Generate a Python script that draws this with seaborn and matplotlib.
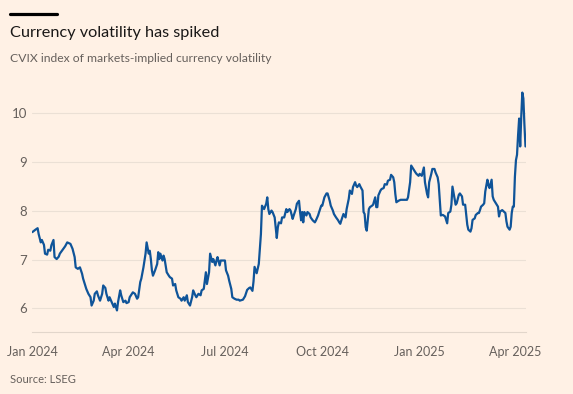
import matplotlib
matplotlib.use("Agg")
import matplotlib.pyplot as plt
import matplotlib.dates as mdates
from matplotlib.lines import Line2D
import numpy as np
import pandas as pd
import seaborn as sns

# CVIX readings; day offsets counted from START
START = "2024-01-01"
days = [
    0, 3, 5, 6, 8, 9, 11, 12, 14, 15, 17, 18, 20, 21, 23, 25, 26, 28, 31, 33,
    36, 38, 40, 41, 43, 45, 47, 48, 50, 51, 53, 55, 56, 58, 59, 61, 62, 64, 66, 67,
    69, 70, 72, 73, 75, 77, 78, 80, 81, 83, 84, 86, 88, 89, 91, 92, 95, 97, 99, 100,
    102, 103, 105, 107, 108, 110, 111, 112, 113, 114, 116, 118, 119, 120, 121, 123, 124, 125, 127, 129,
    130, 132, 133, 135, 136, 138, 140, 141, 143, 144, 146, 147, 149, 151, 152, 154, 155, 157, 159, 160,
    162, 163, 164, 165, 167, 168, 170, 171, 173, 174, 175, 177, 178, 180, 182, 183, 185, 186, 188, 189,
    191, 193, 195, 196, 199, 201, 203, 205, 206, 208, 209, 210, 212, 214, 215, 216, 217, 219, 221, 222,
    223, 224, 226, 227, 229, 230, 231, 232, 233, 235, 236, 238, 240, 241, 243, 244, 246, 247, 249, 250,
    252, 253, 254, 255, 256, 257, 259, 260, 262, 263, 265, 267, 268, 270, 271, 273, 274, 276, 278, 279,
    281, 282, 284, 285, 287, 289, 290, 291, 292, 294, 296, 297, 299, 300, 302, 303, 305, 306, 307, 309,
    310, 312, 313, 314, 315, 316, 317, 318, 319, 321, 322, 324, 325, 326, 327, 329, 330, 332, 333, 335,
    336, 338, 339, 341, 342, 343, 344, 346, 348, 351, 354, 355, 357, 358, 360, 362, 363, 365, 366, 368,
    370, 371, 373, 374, 375, 377, 378, 380, 381, 383, 384, 386, 387, 388, 390, 392, 393, 395, 396, 397,
    399, 400, 401, 403, 404, 406, 407, 409, 410, 411, 412, 414, 415, 416, 418, 419, 421, 422, 423, 424,
    426, 427, 428, 430, 431, 432, 434, 435, 436, 438, 440, 441, 442, 444, 445, 447, 448, 449, 451, 452,
    453, 454, 455, 456, 457, 458, 459, 460, 461, 462, 463, 464, 465, 466,
]
cvix = [
    7.56, 7.61, 7.64, 7.52, 7.35, 7.40, 7.30, 7.12, 7.10, 7.20, 7.18, 7.29, 7.40, 7.05, 7.01, 7.06, 7.12, 7.18, 7.27, 7.35,
    7.32, 7.22, 7.05, 6.84, 6.81, 6.84, 6.71, 6.61, 6.47, 6.40, 6.30, 6.23, 6.06, 6.16, 6.30, 6.35, 6.27, 6.16, 6.30, 6.47,
    6.42, 6.30, 6.16, 6.23, 6.13, 6.03, 6.10, 5.96, 6.13, 6.37, 6.27, 6.13, 6.16, 6.11, 6.13, 6.23, 6.33, 6.30, 6.20, 6.23,
    6.54, 6.61, 6.84, 7.12, 7.35, 7.12, 7.18, 7.01, 6.78, 6.67, 6.78, 6.91, 7.15, 7.01, 7.12, 6.98, 7.08, 7.01, 6.74, 6.67,
    6.64, 6.61, 6.47, 6.50, 6.37, 6.23, 6.20, 6.16, 6.23, 6.16, 6.27, 6.13, 6.06, 6.23, 6.37, 6.27, 6.23, 6.30, 6.27, 6.37,
    6.40, 6.57, 6.74, 6.50, 6.74, 7.12, 6.95, 7.01, 6.88, 6.98, 7.05, 6.88, 6.98, 6.98, 6.98, 6.78, 6.67, 6.57, 6.40, 6.23,
    6.20, 6.18, 6.18, 6.16, 6.18, 6.25, 6.38, 6.42, 6.43, 6.36, 6.55, 6.85, 6.72, 6.91, 7.22, 7.52, 8.10, 8.03, 8.14, 8.27,
    8.03, 7.93, 8.00, 7.97, 7.86, 7.66, 7.44, 7.66, 7.76, 7.74, 7.86, 7.86, 8.03, 7.97, 8.03, 8.00, 7.83, 7.90, 8.03, 8.14,
    8.20, 7.97, 7.80, 7.97, 7.76, 7.97, 7.90, 7.97, 7.93, 7.86, 7.80, 7.76, 7.80, 7.90, 7.97, 8.10, 8.10, 8.27, 8.35, 8.35,
    8.20, 8.10, 8.00, 7.93, 7.86, 7.80, 7.76, 7.73, 7.80, 7.93, 7.86, 8.03, 8.24, 8.41, 8.34, 8.48, 8.58, 8.51, 8.48, 8.54,
    8.49, 8.41, 7.97, 7.93, 7.66, 7.59, 7.80, 8.03, 8.07, 8.10, 8.12, 8.27, 8.07, 8.07, 8.31, 8.41, 8.44, 8.46, 8.54, 8.53,
    8.61, 8.63, 8.73, 8.68, 8.58, 8.34, 8.17, 8.20, 8.22, 8.22, 8.22, 8.27, 8.58, 8.92, 8.85, 8.78, 8.75, 8.71, 8.75, 8.71,
    8.88, 8.58, 8.34, 8.27, 8.58, 8.75, 8.85, 8.85, 8.78, 8.68, 8.54, 7.90, 7.91, 7.91, 7.88, 7.74, 7.95, 7.98, 8.12, 8.49,
    8.25, 8.12, 8.15, 8.32, 8.35, 8.29, 8.12, 8.12, 7.91, 7.71, 7.61, 7.57, 7.64, 7.81, 7.84, 7.91, 7.95, 7.95, 8.01, 8.08,
    8.12, 8.15, 8.39, 8.63, 8.52, 8.46, 8.63, 8.29, 8.22, 8.15, 8.08, 7.88, 7.98, 8.01, 7.99, 7.95, 7.78, 7.67, 7.61, 7.67,
    7.95, 8.08, 8.08, 8.69, 9.03, 9.14, 9.54, 9.88, 9.31, 9.92, 10.41, 10.29, 9.75, 9.31,
]
y_ticks = [6, 7, 8, 9, 10]

TITLE = "Currency volatility has spiked"
SUBTITLE = "CVIX index of markets-implied currency volatility"
SOURCE = "Source: LSEG"

BG = "#fff1e5"
LINE = "#0f5499"
GREY = "#66605c"
GRID = "#ebe0d5"

sns.set_theme(style="white")
plt.rcParams["font.family"] = ["Lato", "DejaVu Sans"]

df = pd.DataFrame({
    "date": pd.Timestamp(START) + pd.to_timedelta(days, unit="D"),
    "cvix": cvix,
})

fig = plt.figure(figsize=(5.73, 3.94), dpi=100, facecolor=BG)
ax = fig.add_axes([0.0564, 0.1574, 0.8616, 0.6312], facecolor=BG)

sns.lineplot(data=df, x="date", y="cvix", ax=ax, color=LINE, linewidth=1.6)

ax.set_xlim(pd.Timestamp(START), pd.Timestamp("2025-04-11 12:00"))
ax.set_ylim(5.52, 10.6)
ax.set_yticks(y_ticks)
ax.set_xlabel("")
ax.set_ylabel("")

ax.xaxis.set_major_locator(mdates.MonthLocator(bymonth=[1, 4, 7, 10]))
ax.xaxis.set_major_formatter(mdates.DateFormatter("%b %Y"))
ax.xaxis.set_minor_locator(mdates.MonthLocator())

ax.grid(axis="y", color=GRID, linewidth=0.8)
ax.grid(axis="x", visible=False)
for side in ["left", "right", "top"]:
    ax.spines[side].set_visible(False)
ax.spines["bottom"].set_color("#e2d6cb")
ax.spines["bottom"].set_linewidth(0.8)

ax.tick_params(axis="x", which="both", direction="out", length=4.5, width=0.7,
               color="#e2d6cb", labelcolor=GREY, labelsize=9, pad=5.5)
ax.tick_params(axis="y", length=0, labelcolor=GREY, labelsize=9.5, pad=4)

# header: short black rule, title, subtitle; source at the foot
fig.add_artist(Line2D([10 / 573, 57 / 573], [0.964, 0.964], color="black",
                      linewidth=2.3, transform=fig.transFigure))
fig.text(10 / 573, 0.917, TITLE, fontsize=11.7, color="#1a1817", va="center", ha="left")
fig.text(10 / 573, 0.852, SUBTITLE, fontsize=8.7, color=GREY, va="center", ha="left")
fig.text(10 / 573, 0.036, SOURCE, fontsize=8, color=GREY, va="center", ha="left")

fig.savefig("out.png", dpi=100, facecolor=BG)
plt.close(fig)
